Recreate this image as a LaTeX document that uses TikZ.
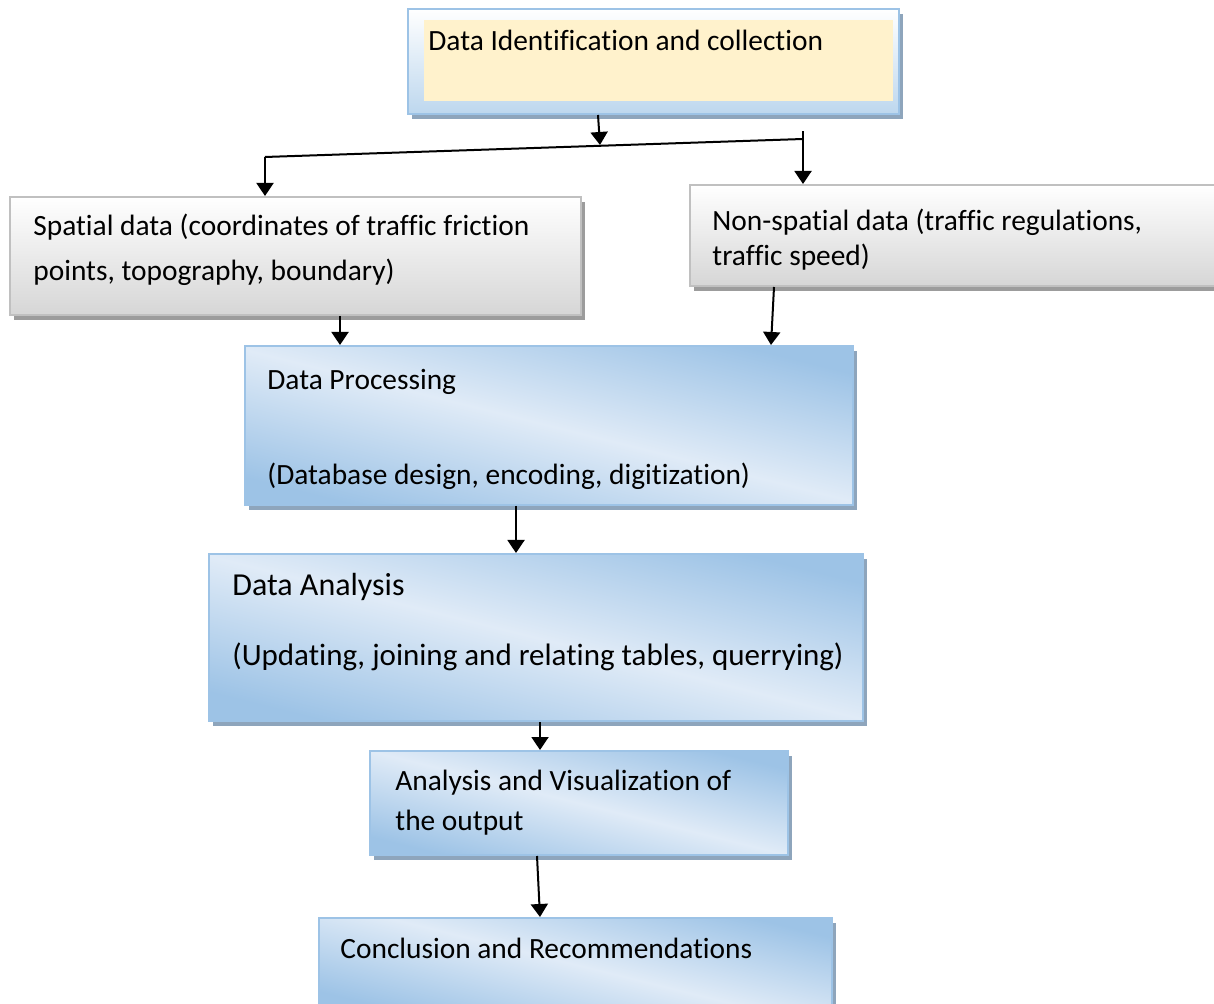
\documentclass[tikz,border=0pt]{standalone}
\usepackage{fontspec}
\setmainfont{Carlito}[Ligatures=NoCommon]
\usepackage{xcolor}
\usetikzlibrary{arrows.meta,shadows}
\definecolor{boxblue}{HTML}{9DC3E6}
\definecolor{boxlight}{HTML}{E0EBF7}
\definecolor{topblue}{HTML}{BDD7EE}
\definecolor{shadeblue}{HTML}{8EA5BC}
\definecolor{tanfill}{HTML}{FFF2CC}
\definecolor{graylight}{HTML}{D6D6D6}
\definecolor{grayline}{HTML}{C0C0C0}
\definecolor{shadegray}{HTML}{9C9C9C}
\pgfdeclareverticalshading{bluewash}{100bp}{color(0bp)=(boxblue); color(25bp)=(boxblue); color(50bp)=(boxlight); color(75bp)=(boxblue); color(100bp)=(boxblue)}
\tikzset{
  bluebox/.style={draw=boxblue, line width=1pt, shading=bluewash, shading angle=-14,
    drop shadow={shadow xshift=2pt, shadow yshift=-2.5pt, fill=shadeblue, opacity=1}, anchor=north west, inner sep=0pt},
  graybox/.style={draw=grayline, line width=1pt, top color=white, bottom color=graylight,
    drop shadow={shadow xshift=2pt, shadow yshift=-2.5pt, fill=shadegray, opacity=1}, anchor=north west, inner sep=0pt},
  txt/.style={anchor=base west, inner sep=0pt, font=\fontsize{14.7}{17}\selectfont},
  arr/.style={-{Triangle[length=6.5pt,width=8.5pt]}, line width=1pt}}

\begin{document}
\begin{tikzpicture}[x=0.5pt,y=-0.5pt]
\useasboundingbox (0,0) rectangle (1214,1004);

% boxes
\node[draw=boxblue, line width=1pt, top color=white, bottom color=topblue, anchor=north west, inner sep=0pt,
  drop shadow={shadow xshift=2pt, shadow yshift=-2.5pt, fill=shadeblue, opacity=1},
  minimum width=245.5pt, minimum height=52.5pt] (collect) at (407,8) {};
\node[fill=tanfill, anchor=north west, inner sep=0pt, minimum width=234.5pt, minimum height=40.5pt] (collectin) at (424,20) {};
\node[graybox, minimum width=285.5pt, minimum height=59pt] (spatial) at (9,196) {};
\node[graybox, minimum width=265.5pt, minimum height=50.5pt] (nonspatial) at (689,184) {};
\node[bluebox, minimum width=304pt, minimum height=79.5pt] (process) at (244,345) {};
\node[bluebox, minimum width=327pt, minimum height=83.5pt] (analysis) at (208,553) {};
\node[bluebox, minimum width=209pt, minimum height=52pt] (visual) at (369,750) {};
\node[bluebox, minimum width=256.5pt, minimum height=46.5pt] (conclude) at (318,917) {};

% texts
\node[txt] (collecttxt) at (428,51) {Data Identification and collection};
\node[txt] (spatial1) at (33,236) {Spatial data (coordinates of traffic friction};
\node[txt] (spatial2) at (33,281) {points, topography, boundary)};
\node[txt] (nonspatial1) at (712,231) {Non-spatial data (traffic regulations,};
\node[txt] (nonspatial2) at (712,266) {traffic speed)};
\node[txt] (process1) at (267,390) {Data Processing};
\node[txt] (process2) at (267,485) {(Database design, encoding, digitization)};
\node[txt, font=\fontsize{16}{19}\selectfont] (analysis1) at (232,596) {Data Analysis};
\node[txt, font=\fontsize{15.5}{18}\selectfont] (analysis2) at (232,665) {(Updating, joining and relating tables, querrying)};
\node[txt] (visual1) at (395,790) {Analysis and Visualization of};
\node[txt] (visual2) at (395,830) {the output};
\node[txt] (conclude1) at (340,958) {Conclusion and Recommendations};

% split line
\coordinate (jl) at (265,157);
\coordinate (jr) at (803,139);
\coordinate (jm) at (600,145);
\draw [line width=1pt] (jl) -- (jr);
\draw [line width=1pt] (jr) -- ++(0,-8);
\draw [arr] ([xshift=-1pt]jm |- collect.south) -- (jm);
\draw [arr] (jl) -- (jl |- spatial.north);
\draw [arr] (jr) -- (jr |- nonspatial.north);

% flow down
\coordinate (c1) at (340,0);
\coordinate (c2) at (772,0);
\coordinate (c3) at (516,0);
\coordinate (c4) at (540,0);
\coordinate (c5) at (538,0);
\draw [arr] (c1 |- spatial.south) -- (c1 |- process.north);
\draw [arr] ([xshift=1pt]c2 |- nonspatial.south) -- ([xshift=-0.5pt]c2 |- process.north);
\draw [arr] (c3 |- process.south) -- (c3 |- analysis.north);
\draw [arr] (c4 |- analysis.south) -- (c4 |- visual.north);
\draw [arr] ([xshift=-0.5pt]c5 |- visual.south) -- ([xshift=1pt]c5 |- conclude.north);
\end{tikzpicture}
\end{document}
